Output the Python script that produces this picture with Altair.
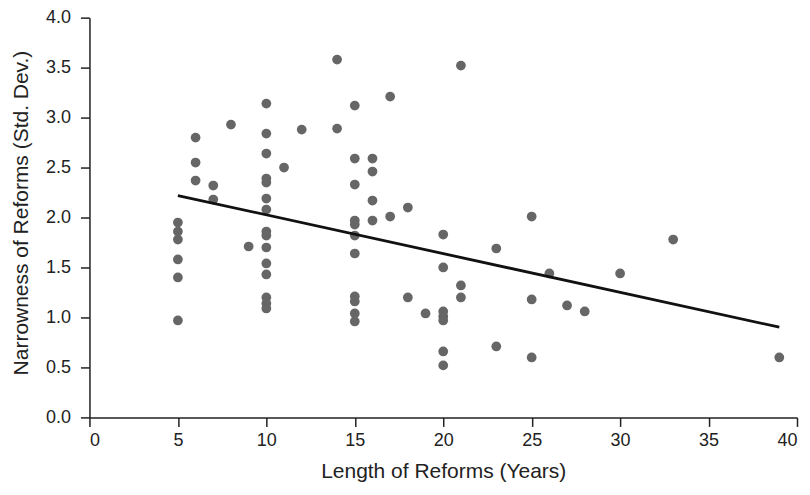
import altair as alt
import pandas as pd

# Length of reforms (years) grouped with their narrowness values (std. dev.)
len5 = [1.95, 1.86, 1.78, 1.58, 1.40, 0.97]
len6 = [2.80, 2.55, 2.37]
len7 = [2.32, 2.18]
len8 = [2.93]
len9 = [1.71]
len10 = [3.14, 2.84, 2.64, 2.39, 2.35, 2.19, 2.08, 1.86, 1.82, 1.70, 1.54, 1.43, 1.20, 1.14, 1.09]
len11 = [2.50]
len12 = [2.88]
len14 = [3.58, 2.89]
len15 = [3.12, 2.59, 2.33, 1.97, 1.93, 1.82, 1.64, 1.21, 1.16, 1.04, 0.96]
len16 = [2.59, 2.46, 2.17, 1.97]
len17 = [3.21, 2.01]
len18 = [2.10, 1.20]
len19 = [1.04]
len20 = [1.83, 1.50, 1.06, 1.01, 0.97, 0.66, 0.52]
len21 = [3.52, 1.32, 1.20]
len23 = [1.69, 0.71]
len25 = [2.01, 1.18, 0.60]
len26 = [1.44]
len27 = [1.12]
len28 = [1.06]
len30 = [1.44]
len33 = [1.78]
len39 = [0.60]

groups = {
    5: len5, 6: len6, 7: len7, 8: len8, 9: len9, 10: len10, 11: len11,
    12: len12, 14: len14, 15: len15, 16: len16, 17: len17, 18: len18,
    19: len19, 20: len20, 21: len21, 23: len23, 25: len25, 26: len26,
    27: len27, 28: len28, 30: len30, 33: len33, 39: len39,
}

rows = [{"length": k, "narrow": v} for k, vals in groups.items() for v in vals]
df = pd.DataFrame(rows)

FONT = "Liberation Sans"
TXT = "#222222"

x_enc = alt.X(
    "length:Q",
    scale=alt.Scale(domain=[0, 40], nice=False, zero=False),
    axis=alt.Axis(
        title="Length of Reforms (Years)",
        values=[0, 5, 10, 15, 20, 25, 30, 35, 40],
        grid=False, tickSize=9, labelPadding=5, labelFontSize=18,
        titleFontSize=21, titleFontWeight="normal",
        titleX=354, titleY=54, titleBaseline="middle", titleAlign="center",
    ),
)
y_enc = alt.Y(
    "narrow:Q",
    scale=alt.Scale(domain=[0, 4], nice=False, zero=False),
    axis=alt.Axis(
        title="Narrowness of Reforms (Std. Dev.)",
        values=[0, 0.5, 1.0, 1.5, 2.0, 2.5, 3.0, 3.5, 4.0],
        format=".1f",
        grid=False, tickSize=9, labelPadding=10, labelFontSize=18,
        titleFontSize=21, titleFontWeight="normal",
        titleX=-68, titleY=195, titleAngle=270,
        titleBaseline="middle", titleAlign="center",
    ),
)

points = alt.Chart(df).mark_circle(size=95, color="#666666", opacity=1).encode(
    x=x_enc, y=y_enc
)

fit = (
    alt.Chart(df)
    .transform_regression("length", "narrow", extent=[5, 39])
    .mark_line(color="#111111", strokeWidth=2.8)
    .encode(x="length:Q", y="narrow:Q")
)

chart = (
    alt.layer(points, fit)
    .properties(
        width=708,
        height=400,
        autosize=alt.AutoSizeParams(type="none"),
        padding={"left": 81.5, "top": 9.5, "right": 5, "bottom": 74},
        background="white",
    )
    .configure_view(stroke=None)
    .configure_axis(
        domainColor="#222222", tickColor="#222222", domainWidth=1.5, tickWidth=1.5,
        labelColor=TXT, titleColor=TXT, labelFont=FONT, titleFont=FONT,
    )
)

chart.save("out.html", embed_options={"renderer": "svg", "actions": False})
